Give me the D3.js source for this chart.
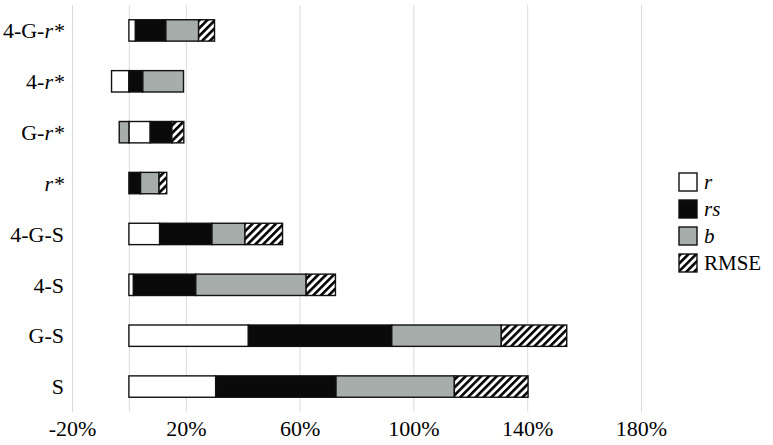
<!DOCTYPE html>
<html>
<head>
<meta charset="utf-8">
<script src="https://cdn.jsdelivr.net/npm/d3@7"></script>
<style>
  body { margin: 0; background: #fff; }
  text { font-family: "Liberation Serif", "Times New Roman", serif; fill: #000; }
</style>
</head>
<body>
<script>
// categories top to bottom
const categories = ["4-G-r*", "4-r*", "G-r*", "r*", "4-G-S", "4-S", "G-S", "S"];
// values in percent
const rVals    = [2.3, -6.1, 7.5, 0, 10.8, 1.6, 42.0, 30.5];
const rsVals   = [10.7, 4.9, 7.6, 4.1, 18.4, 21.9, 50.4, 42.3];
const bVals    = [11.5, 14.3, -3.4, 6.5, 11.6, 38.8, 38.5, 41.6];
const rmseVals = [5.6, 0, 4.2, 2.7, 13.2, 10.3, 23.0, 25.9];
const seriesKeys = ["r", "rs", "b", "RMSE"];
const tickVals = [-20, 20, 60, 100, 140, 180];

const width = 773, height = 445;
const plotTop = 5, plotBottom = 412;

const svg = d3.select("body").append("svg")
    .attr("width", width)
    .attr("height", height);

// hatch pattern
const defs = svg.append("defs");
const pat = defs.append("pattern")
    .attr("id", "hatch")
    .attr("patternUnits", "userSpaceOnUse")
    .attr("width", 5.5).attr("height", 5.5)
    .attr("patternTransform", "rotate(45)");
pat.append("rect").attr("width", 5.5).attr("height", 5.5).attr("fill", "#fff");
pat.append("rect").attr("width", 2.6).attr("height", 5.5).attr("fill", "#000");

const fills = { r: "#ffffff", rs: "#0a0a0a", b: "#a6adab", RMSE: "url(#hatch)" };

const rows = categories.map((c, i) => ({
  cat: c, r: rVals[i], rs: rsVals[i], b: bVals[i], RMSE: rmseVals[i]
}));

const x = d3.scaleLinear().domain([-20, 180]).range([72, 641]);
const y = d3.scaleBand().domain(categories).range([plotTop, plotBottom])
    .paddingInner(0.58).paddingOuter(0.29);

// gridlines
svg.append("g")
    .attr("transform", `translate(0,${plotBottom})`)
    .call(d3.axisBottom(x).tickValues([-20, 0, 20, 60, 100, 140, 180])
      .tickSize(-(plotBottom - plotTop)).tickFormat(""))
    .call(g => g.select(".domain").remove())
    .call(g => g.selectAll("line").attr("stroke", "#dadcdc").attr("stroke-width", 1));

// tick labels
svg.append("g")
    .attr("transform", `translate(0,${plotBottom})`)
    .call(d3.axisBottom(x).tickValues(tickVals).tickSize(0).tickPadding(8)
      .tickFormat(d => d + "%"))
    .call(g => g.select(".domain").remove())
    .call(g => g.selectAll("text").attr("font-size", "22px")
      .style("font-family", "'Liberation Serif', serif").attr("fill", "#000"));

// stacked bars
const stack = d3.stack().keys(seriesKeys).offset(d3.stackOffsetDiverging);
const series = stack(rows);

svg.append("g").selectAll("g")
  .data(series)
  .join("g")
    .attr("fill", d => fills[d.key])
  .selectAll("rect")
  .data(d => d.filter(p => p[1] - p[0] !== 0))
  .join("rect")
    .attr("x", d => x(Math.min(d[0], d[1])))
    .attr("width", d => Math.abs(x(d[1]) - x(d[0])))
    .attr("y", d => y(d.data.cat))
    .attr("height", y.bandwidth())
    .attr("stroke", "#111")
    .attr("stroke-width", 1.4);

// category labels
const lab = svg.append("g").selectAll("text")
  .data(categories)
  .join("text")
    .attr("x", 64)
    .attr("y", d => y(d) + y.bandwidth() / 2)
    .attr("dy", "0.35em")
    .attr("text-anchor", "end")
    .attr("font-size", "22px");
lab.each(function(d) {
  const t = d3.select(this);
  const k = d.indexOf("r*");
  if (k >= 0) {
    if (k > 0) t.append("tspan").text(d.slice(0, k));
    t.append("tspan").attr("font-style", "italic").text("r*");
  } else {
    t.text(d);
  }
});

// legend
const leg = svg.append("g").selectAll("g")
  .data(seriesKeys)
  .join("g")
    .attr("transform", (d, i) => `translate(679,${173 + i * 27})`);
leg.append("rect")
    .attr("width", 18).attr("height", 18)
    .attr("fill", d => fills[d])
    .attr("stroke", "#111").attr("stroke-width", 1.4);
leg.append("text")
    .attr("x", 25).attr("y", 16)
    .attr("font-size", "21px")
    .attr("font-style", d => d === "RMSE" ? "normal" : "italic")
    .text(d => d);
</script>
</body>
</html>
